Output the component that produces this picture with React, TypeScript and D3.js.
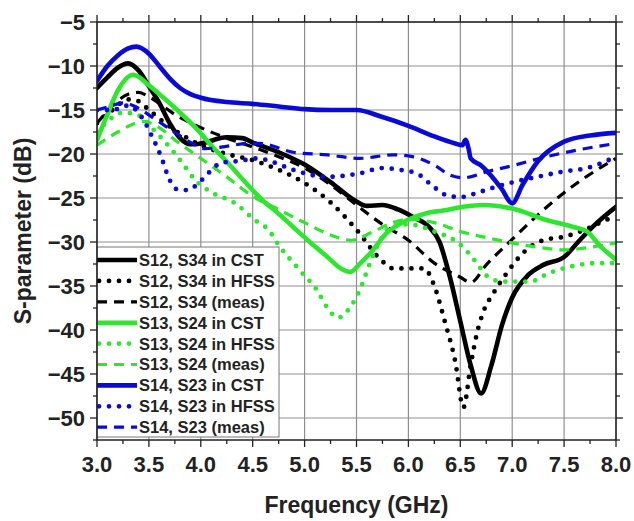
import React from "react";
import * as d3 from "d3";

const W = 634, H = 521;
const M = { left: 97, right: 616, top: 22, bottom: 440 };

const xTicks = [3.0, 3.5, 4.0, 4.5, 5.0, 5.5, 6.0, 6.5, 7.0, 7.5, 8.0];
const yTicks = [-5, -10, -15, -20, -25, -30, -35, -40, -45, -50];

// S12, S34 in CST
const s12Cst: [number, number][] = [
  [3.0, -12.5], [3.1, -11.3], [3.2, -10.2], [3.3, -9.7], [3.4, -10.5], [3.5, -12.3], [3.6, -14.2],
  [3.7, -16.5], [3.8, -18.2], [3.9, -18.9], [4.0, -18.8], [4.25, -18.1], [4.4, -18.2], [4.5, -18.7],
  [4.75, -19.8], [5.0, -21.2], [5.25, -23.2], [5.5, -25.4], [5.6, -25.9], [5.75, -25.8], [5.9, -26.3],
  [6.05, -27.2], [6.2, -28.3], [6.3, -30.0], [6.4, -34.0], [6.5, -39.0], [6.6, -44.0], [6.7, -47.2],
  [6.8, -44.0], [6.9, -39.5], [7.0, -36.3], [7.15, -33.8], [7.3, -32.6], [7.5, -31.7], [7.65, -29.8],
  [7.8, -28.0], [8.0, -26.0],
];
// S12, S34 in HFSS
const s12Hfss: [number, number][] = [
  [3.0, -16.5], [3.15, -15.0], [3.3, -13.8], [3.4, -14.0], [3.5, -15.0], [3.75, -17.3], [4.0, -19.0],
  [4.25, -20.0], [4.5, -20.7], [4.75, -21.8], [5.0, -23.3], [5.25, -25.5], [5.5, -28.6], [5.75, -32.2],
  [5.85, -33.0], [6.0, -33.0], [6.15, -33.0], [6.25, -35.0], [6.35, -39.0], [6.45, -43.5], [6.53, -48.8],
  [6.6, -44.0], [6.66, -40.4], [6.72, -38.0], [6.82, -35.8], [6.95, -33.5], [7.1, -31.3], [7.3, -29.8],
  [7.5, -29.4], [7.7, -28.6], [7.85, -27.8], [8.0, -27.0],
];
// S12, S34 (meas)
const s12Meas: [number, number][] = [
  [3.0, -16.5], [3.15, -14.5], [3.3, -13.2], [3.4, -13.0], [3.5, -13.5], [3.75, -15.5], [4.0, -17.0],
  [4.25, -18.2], [4.5, -19.2], [4.75, -20.3], [5.0, -21.6], [5.25, -23.5], [5.5, -25.8], [5.75, -28.0],
  [6.0, -29.8], [6.25, -32.4], [6.5, -34.0], [6.6, -34.6], [6.75, -32.6], [7.0, -29.7], [7.25, -26.9],
  [7.5, -24.4], [7.75, -22.3], [8.0, -20.5],
];
// S13, S24 in CST
const s13Cst: [number, number][] = [
  [3.0, -18.4], [3.1, -15.5], [3.2, -12.8], [3.35, -11.0], [3.5, -12.2], [3.63, -13.5], [3.8, -15.3],
  [3.94, -16.9], [4.1, -19.0], [4.26, -21.0], [4.42, -23.1], [4.59, -25.2], [4.75, -26.8], [4.89, -28.3],
  [5.05, -30.0], [5.22, -31.7], [5.35, -33.0], [5.44, -33.4], [5.53, -32.5], [5.63, -31.3], [5.79, -29.0],
  [5.99, -27.5], [6.18, -26.7], [6.35, -26.4], [6.53, -26.0], [6.72, -25.8], [7.0, -26.2], [7.33, -27.5],
  [7.59, -28.3], [7.72, -28.8], [7.85, -30.5], [8.0, -32.0],
];
// S13, S24 in HFSS
const s13Hfss: [number, number][] = [
  [3.0, -17.5], [3.1, -16.3], [3.25, -15.3], [3.4, -15.6], [3.55, -17.3], [3.72, -19.5], [3.82, -21.0],
  [3.95, -23.0], [4.11, -24.4], [4.33, -25.6], [4.52, -27.5], [4.65, -28.6], [4.76, -30.5], [4.96, -33.3],
  [5.12, -35.5], [5.22, -37.5], [5.32, -38.6], [5.44, -37.4], [5.53, -35.5], [5.63, -32.4], [5.73, -29.8],
  [5.82, -28.3], [6.0, -28.0], [6.25, -28.8], [6.5, -30.3], [6.66, -32.4], [6.75, -33.8], [6.91, -34.5],
  [7.17, -34.5], [7.36, -33.5], [7.56, -32.8], [7.81, -32.4], [8.0, -32.4],
];
// S13, S24 (meas)
const s13Meas: [number, number][] = [
  [3.0, -19.0], [3.2, -17.5], [3.45, -16.3], [3.6, -17.0], [3.75, -18.4], [4.0, -20.5], [4.25, -22.6],
  [4.5, -24.8], [4.75, -26.3], [5.0, -27.8], [5.25, -29.2], [5.45, -29.8], [5.65, -28.9], [5.85, -27.8],
  [6.0, -27.4], [6.25, -27.8], [6.5, -28.8], [6.75, -29.5], [7.0, -30.1], [7.25, -30.6], [7.5, -30.9],
  [7.75, -30.6], [8.0, -30.1],
];
// S14, S23 in CST
const s14Cst: [number, number][] = [
  [3.0, -11.7], [3.1, -10.0], [3.2, -8.8], [3.3, -8.0], [3.38, -7.8], [3.5, -8.6], [3.6, -10.0],
  [3.7, -11.4], [3.8, -12.5], [3.9, -13.2], [4.0, -13.6], [4.25, -14.1], [4.5, -14.3], [4.75, -14.6],
  [5.0, -14.9], [5.25, -15.0], [5.5, -15.0], [5.75, -15.8], [6.0, -16.8], [6.25, -18.0], [6.45, -18.8],
  [6.52, -19.0], [6.55, -18.4], [6.58, -19.4], [6.6, -20.5], [6.7, -21.3], [6.8, -22.5], [6.9, -24.0],
  [7.0, -25.6], [7.1, -23.5], [7.25, -20.8], [7.5, -18.6], [7.75, -17.9], [8.0, -17.6],
];
// S14, S23 in HFSS
const s14Hfss: [number, number][] = [
  [3.0, -15.0], [3.15, -15.0], [3.3, -14.5], [3.43, -15.8], [3.53, -18.0], [3.63, -20.7], [3.68, -22.4],
  [3.77, -24.0], [3.87, -24.1], [3.98, -23.3], [4.07, -22.2], [4.2, -21.0], [4.36, -20.8], [4.55, -20.5],
  [4.69, -20.9], [4.89, -21.8], [5.22, -22.6], [5.53, -22.2], [5.75, -21.6], [5.92, -21.8], [6.08, -22.2],
  [6.24, -23.7], [6.37, -24.7], [6.5, -24.9], [6.69, -24.3], [6.85, -23.7], [7.01, -23.2], [7.24, -22.6],
  [7.49, -22.0], [7.72, -21.6], [8.0, -20.3],
];
// S14, S23 (meas)
const s14Meas: [number, number][] = [
  [3.0, -15.0], [3.12, -14.6], [3.25, -14.2], [3.4, -14.8], [3.53, -15.8], [3.72, -17.3], [3.92, -18.8],
  [4.04, -19.4], [4.26, -19.1], [4.45, -18.8], [4.57, -18.8], [4.89, -19.8], [5.22, -20.1], [5.53, -20.5],
  [5.85, -20.1], [6.04, -20.3], [6.27, -21.4], [6.4, -22.4], [6.53, -22.7], [6.76, -22.0], [7.01, -21.3],
  [7.33, -20.3], [7.65, -19.5], [8.0, -18.8],
];

const BLACK = "#000000";
const GREEN = "#2ee62e";
const BLUE = "#0a0ad6";

type Style = "solid" | "dot" | "dash";
const seriesNames = [
  "S12, S34 in CST", "S12, S34 in HFSS", "S12, S34 (meas)",
  "S13, S24 in CST", "S13, S24 in HFSS", "S13, S24 (meas)",
  "S14, S23 in CST", "S14, S23 in HFSS", "S14, S23 (meas)",
];
const seriesData = [s12Cst, s12Hfss, s12Meas, s13Cst, s13Hfss, s13Meas, s14Cst, s14Hfss, s14Meas];
const seriesColors = [BLACK, BLACK, BLACK, GREEN, GREEN, GREEN, BLUE, BLUE, BLUE];
const seriesStyles: Style[] = ["solid", "dot", "dash", "solid", "dot", "dash", "solid", "dot", "dash"];

function strokeProps(style: Style, color: string) {
  if (style === "solid") return { stroke: color, strokeWidth: 4.6, strokeLinecap: "round" as const };
  if (style === "dot") return { stroke: color, strokeWidth: 4.8, strokeDasharray: "0 10", strokeLinecap: "round" as const };
  return { stroke: color, strokeWidth: 3.2, strokeDasharray: "10 7" };
}

export default function App() {
  const x = d3.scaleLinear().domain([3, 8]).range([M.left, M.right]);
  const y = d3.scaleLinear().domain([-5, -52.5]).range([M.top, M.bottom]);
  const gen = d3.line<[number, number]>().x(d => x(d[0])).y(d => y(d[1])).curve(d3.curveMonotoneX);

  const xMinor = d3.range(3, 8.001, 0.25);
  const yMinor = d3.range(-5, -52.6, -2.5);
  const font = "'Liberation Sans', Arial, sans-serif";

  const legX = 97, legY = 247, legW = 182, legH = 190, rowH = 20.9, row0 = 260;

  return (
    <svg width={W} height={H} style={{ display: "block", position: "absolute", left: 0, top: 0 }}>
      <rect width={W} height={H} fill="#fff" />
      <defs>
        <clipPath id="plotclip">
          <rect x={M.left} y={M.top} width={M.right - M.left} height={M.bottom - M.top} />
        </clipPath>
      </defs>
      {xTicks.map(t => (
        <line key={"gx" + t} x1={x(t)} x2={x(t)} y1={M.top} y2={M.bottom} stroke="#8f8f8f" strokeWidth={1.2} />
      ))}
      {yTicks.map(t => (
        <line key={"gy" + t} x1={M.left} x2={M.right} y1={y(t)} y2={y(t)} stroke="#8f8f8f" strokeWidth={1.2} />
      ))}
      <g clipPath="url(#plotclip)">
        {seriesData.map((d, i) => (
          <path key={i} d={gen(d) || ""} fill="none" {...strokeProps(seriesStyles[i], seriesColors[i])} />
        ))}
      </g>
      <rect x={legX} y={legY} width={legW} height={legH} fill="#fff" stroke="#777" strokeWidth={1} />
      {seriesNames.map((n, i) => {
        const cy = row0 + i * rowH;
        const sp = strokeProps(seriesStyles[i], seriesColors[i]);
        const x1 = seriesStyles[i] === "dot" ? 99 : 97;
        return (
          <g key={"leg" + i}>
            <line x1={x1} x2={137} y1={cy} y2={cy} {...sp}
              strokeLinecap={seriesStyles[i] === "solid" ? "butt" : sp.strokeLinecap} />
            <text x={139} y={cy} dy="0.36em" fontFamily={font} fontWeight="bold" fontSize={16.5} fill="#222">{n}</text>
          </g>
        );
      })}
      <rect x={M.left} y={M.top} width={M.right - M.left} height={M.bottom - M.top} fill="none" stroke="#222" strokeWidth={1.5} />
      {xMinor.map((t, i) => {
        const len = i % 2 === 0 ? 7 : 4;
        return (
          <g key={"xt" + i}>
            <line x1={x(t)} x2={x(t)} y1={M.bottom} y2={M.bottom + len} stroke="#222" strokeWidth={1.3} />
            <line x1={x(t)} x2={x(t)} y1={M.top} y2={M.top - len} stroke="#222" strokeWidth={1.3} />
          </g>
        );
      })}
      {yMinor.map((t, i) => {
        const len = i % 2 === 0 ? 7 : 4;
        return (
          <g key={"yt" + i}>
            <line x1={M.left} x2={M.left - len} y1={y(t)} y2={y(t)} stroke="#222" strokeWidth={1.3} />
            <line x1={M.right} x2={M.right + len} y1={y(t)} y2={y(t)} stroke="#222" strokeWidth={1.3} />
          </g>
        );
      })}
      {xTicks.map(t => (
        <text key={"xl" + t} x={x(t)} y={472} textAnchor="middle" fontFamily={font} fontWeight="bold" fontSize={22} fill="#222">
          {t.toFixed(1)}
        </text>
      ))}
      {yTicks.map(t => (
        <text key={"yl" + t} x={85} y={y(t)} dy="0.36em" textAnchor="end" fontFamily={font} fontWeight="bold" fontSize={22} fill="#222">
          {"\u2212" + Math.abs(t)}
        </text>
      ))}
      <text x={(M.left + M.right) / 2} y={513} textAnchor="middle" fontFamily={font} fontWeight="bold" fontSize={23} fill="#222">
        Frequency (GHz)
      </text>
      <text transform={`translate(31, ${(M.top + M.bottom) / 2}) rotate(-90)`} textAnchor="middle" fontFamily={font} fontWeight="bold" fontSize={23} fill="#222">
        S-parameter (dB)
      </text>
    </svg>
  );
}
